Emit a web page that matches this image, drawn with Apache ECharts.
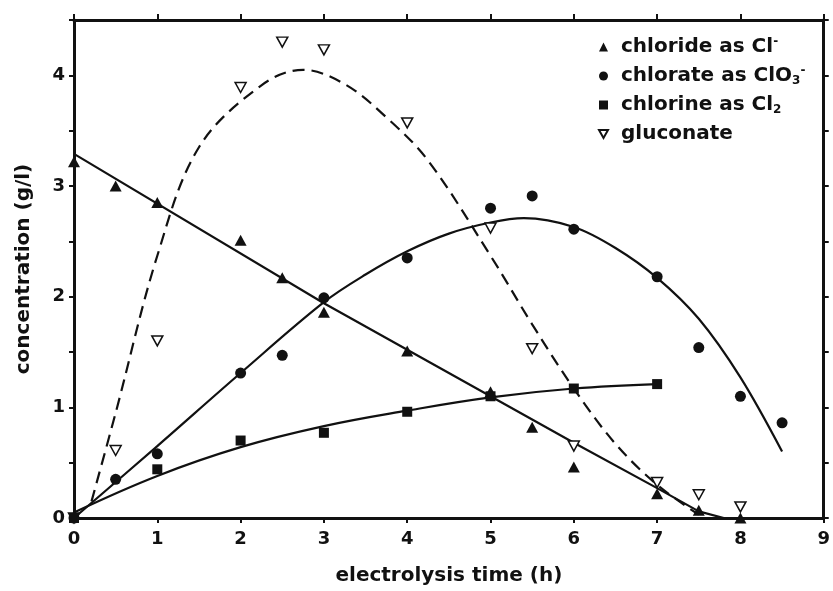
<!DOCTYPE html>
<html>
<head>
<meta charset="utf-8">
<script src="https://cdn.jsdelivr.net/npm/echarts@6/dist/echarts.min.js"></script>
<style>
  html, body { margin: 0; padding: 0; background: #fff; }
  #chart { width: 833px; height: 591px; }
</style>
</head>
<body>
<div id="chart"></div>
<script>
// measured points (x = h, y = g/l)
const chloridePts = [[0, 3.22], [0.5, 3.0], [1, 2.85], [2, 2.51], [2.5, 2.17], [3, 1.86], [4, 1.51], [5, 1.14], [5.5, 0.82], [6, 0.46], [7, 0.22], [7.5, 0.07], [8, 0.0]];
const chloratePts = [[0, 0], [0.5, 0.35], [1, 0.58], [2, 1.31], [2.5, 1.47], [3, 1.99], [4, 2.35], [5, 2.8], [5.5, 2.91], [6, 2.61], [7, 2.18], [7.5, 1.54], [8, 1.1], [8.5, 0.86]];
const chlorinePts = [[0, 0], [1, 0.44], [2, 0.7], [3, 0.77], [4, 0.96], [5, 1.1], [6, 1.17], [7, 1.21]];
const gluconatePts = [[0, 0], [0.5, 0.61], [1, 1.6], [2, 3.89], [2.5, 4.3], [3, 4.23], [4, 3.57], [5, 2.62], [5.5, 1.53], [6, 0.65], [7, 0.32], [7.5, 0.21], [8, 0.1]];

// fitted curves
const chlorideFit = [[0, 3.29], [3, 1.94], [5, 1.1], [6, 0.68], [7, 0.27], [7.5, 0.06], [7.8, 0]];
const chlorateFit = [[0, 0], [1, 0.65], [2, 1.31], [3, 1.95], [3.5, 2.2], [4, 2.41], [4.5, 2.57], [5, 2.67], [5.4, 2.71], [6, 2.63], [6.5, 2.44], [7, 2.17], [7.5, 1.8], [8, 1.27], [8.5, 0.6]];
const chlorineFit = [[0, 0.05], [1, 0.38], [2, 0.64], [3, 0.83], [4, 0.97], [5, 1.09], [6, 1.17], [7, 1.21]];
const gluconateFit = [[0.21, 0.15], [0.5, 0.95], [1, 2.37], [1.5, 3.35], [2.25, 3.91], [2.75, 4.05], [3.25, 3.92], [3.75, 3.62], [4.25, 3.23], [5, 2.37], [5.5, 1.75], [6, 1.17], [6.5, 0.67], [7, 0.3], [7.5, 0.03]];

const seriesNames = ['chloride', 'chlorate', 'chlorine', 'gluconate'];
const legendLabels = {
  chloride: '{t|chloride as Cl}{sup|-}',
  chlorate: '{t|chlorate as ClO}{sub|3}{sup|-}',
  chlorine: '{t|chlorine as Cl}{sub|2}',
  gluconate: '{t|gluconate}'
};

const FONT = 'DejaVu Sans';
const INK = '#111';
const downTriangle = 'path://M0,0L10,0L5,9Z';

const chart = echarts.init(document.getElementById('chart'));

function fitLine(name, data, dashed, smooth) {
  return {
    name: name,
    type: 'line',
    data: data,
    showSymbol: false,
    symbol: 'none',
    smooth: smooth,
    lineStyle: { color: INK, width: 2.2, type: dashed ? [12, 7] : 'solid' },
    silent: true,
    z: 2
  };
}

function dots(name, data, symbol, size, open) {
  return {
    name: name,
    type: 'scatter',
    data: data,
    symbol: symbol,
    symbolSize: size,
    itemStyle: open
      ? { color: '#fff', borderColor: INK, borderWidth: 1.5, opacity: 1 }
      : { color: INK, opacity: 1 },
    z: 3
  };
}

const tickLabel = { fontFamily: FONT, fontWeight: 'bold', fontSize: 18, color: INK };
const axisTitle = { fontFamily: FONT, fontWeight: 'bold', fontSize: 20, color: INK };
const frameLine = { show: true, onZero: false, lineStyle: { color: INK, width: 3 } };

chart.setOption({
  animation: false,
  backgroundColor: '#fff',
  grid: { left: 74, right: 4, top: 20, bottom: 70, containLabel: false },
  legend: {
    orient: 'vertical',
    left: 593,
    top: 31,
    itemWidth: 9,
    itemHeight: 9,
    itemGap: 8,
    data: seriesNames,
    formatter: name => legendLabels[name],
    textStyle: {
      color: INK,
      rich: {
        t: { fontFamily: FONT, fontWeight: 'bold', fontSize: 20, lineHeight: 22, padding: [0, 0, 0, 8], color: INK },
        sup: { fontFamily: FONT, fontWeight: 'bold', fontSize: 12, lineHeight: 12, verticalAlign: 'top', color: INK },
        sub: { fontFamily: FONT, fontWeight: 'bold', fontSize: 12, lineHeight: 12, verticalAlign: 'bottom', color: INK }
      }
    }
  },
  xAxis: [
    {
      type: 'value', min: 0, max: 9, interval: 1, position: 'bottom',
      axisLine: frameLine,
      axisTick: { show: true, length: 5, lineStyle: { color: INK, width: 2 } },
      axisLabel: Object.assign({ margin: 12 }, tickLabel),
      splitLine: { show: false },
      name: 'electrolysis time (h)', nameLocation: 'middle', nameGap: 48,
      nameTextStyle: axisTitle
    },
    {
      type: 'value', min: 0, max: 9, interval: 1, position: 'top',
      axisLine: frameLine,
      axisTick: { show: true, length: 6, lineStyle: { color: INK, width: 2 } },
      axisLabel: { show: false },
      splitLine: { show: false }
    }
  ],
  yAxis: [
    {
      type: 'value', min: 0, max: 4.5, interval: 0.5, position: 'left',
      axisLine: frameLine,
      axisTick: { show: true, length: 5, lineStyle: { color: INK, width: 2 } },
      axisLabel: Object.assign({ margin: 9, formatter: v => (Number.isInteger(v) ? String(v) : '') }, tickLabel),
      splitLine: { show: false },
      name: 'concentration (g/l)', nameLocation: 'middle', nameGap: 40, nameRotate: 90,
      nameTextStyle: axisTitle
    },
    {
      type: 'value', min: 0, max: 4.5, interval: 0.5, position: 'right',
      axisLine: frameLine,
      axisTick: { show: true, length: 5, lineStyle: { color: INK, width: 2 } },
      axisLabel: { show: false },
      splitLine: { show: false }
    }
  ],
  series: [
    fitLine('chloride fit', chlorideFit, false, false),
    fitLine('chlorate fit', chlorateFit, false, 0.35),
    fitLine('chlorine fit', chlorineFit, false, 0.4),
    fitLine('gluconate fit', gluconateFit, true, 0.35),
    dots('gluconate', gluconatePts, downTriangle, [11, 10], true),
    dots('chloride', chloridePts, 'triangle', [12, 11], false),
    dots('chlorate', chloratePts, 'circle', 11, false),
    dots('chlorine', chlorinePts, 'rect', 10, false)
  ]
});
</script>
</body>
</html>
